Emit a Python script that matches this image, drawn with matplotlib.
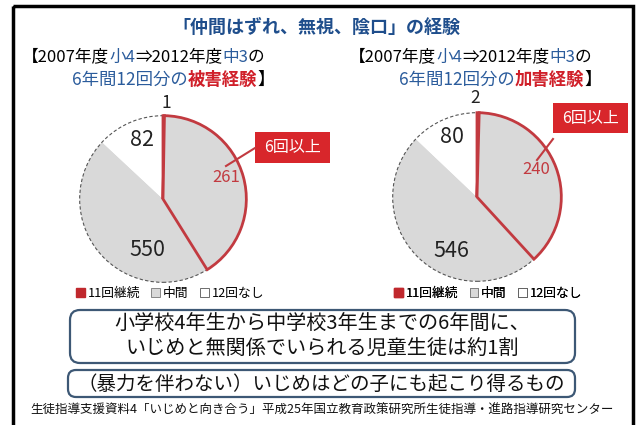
import numpy as np
import matplotlib.pyplot as plt
from matplotlib.patches import FancyBboxPatch, Rectangle, Patch, Circle

plt.rcParams['font.family'] = ['Noto Sans CJK JP', 'DejaVu Sans']

# counts shown on the charts (11回継続 / 6回以上 / 中間 / 12回なし)
victim_counts = [1, 261, 550, 82]
bully_counts = [2, 240, 546, 80]
# wedge sizes as drawn in the original graphic (degrees)
victim_drawn = [1, 147, 165, 47]
bully_drawn = [1.5, 136, 176, 46.5]
legend_labels = ['11回継続', '中間', '12回なし']

RED = '#c23a40'
BOX_RED = '#d8262b'
GRAY = '#d9d9d9'
BLUE = '#2b5c9c'
TITLE_BLUE = '#1f4e8c'

fig = plt.figure(figsize=(6.42, 4.25), dpi=100)


def pie(cx, cy, r, drawn):
    ax = fig.add_axes([(cx - r) / 642, 1 - (cy + r) / 425, 2 * r / 642, 2 * r / 425])
    wedges, _ = ax.pie(drawn, startangle=90, counterclock=False, radius=1,
                       colors=[RED, GRAY, GRAY, 'white'])
    for w in wedges:
        w.set_edgecolor('none')
    # dashed outer rim
    ax.add_patch(Circle((0, 0), 1, fill=False, ec='#555555', lw=0.8,
                        ls=(0, (3, 2)), zorder=2))
    # separator between 中間 and 12回なし
    t = np.deg2rad(wedges[3].theta1)
    ax.plot([0, np.cos(t)], [0, np.sin(t)], color='#555555', lw=0.7, zorder=3)
    # red outline of the 6回以上 part
    for w in wedges[:2]:
        w.set_edgecolor(RED)
        w.set_linewidth(2.0)
        w.set_zorder(4)
    ax.set_xlim(-1.02, 1.02)
    ax.set_ylim(-1.02, 1.02)
    ax.set_aspect('equal')
    ax.axis('off')


def rich(ax, x, y, parts, size):
    # draw text pieces one after another, each in its own colour
    t = None
    for s, color, weight in parts:
        if t is None:
            t = ax.text(x, y, s, color=color, fontsize=size, fontweight=weight,
                        ha='left', va='center')
        else:
            t = ax.annotate(s, xy=(1, 0), xycoords=t, color=color, fontsize=size,
                            fontweight=weight, ha='left', va='bottom')


pie(163, 199, 85, victim_drawn)
pie(477, 197, 86, bully_drawn)

charts = [
    (victim_counts, [(166, 103), (226, 177), (147, 250), (142, 140)],
     (255, 132, 75, 31), ((226, 166), (255, 148))),
    (bully_counts, [(475, 98), (536, 169), (451, 251), (452, 137)],
     (553, 103, 75, 30), ((537, 160), (553, 139))),
]

ax0 = fig.add_axes([0, 0, 1, 1], zorder=5)
ax0.set_xlim(0, 642)
ax0.set_ylim(425, 0)
ax0.axis('off')
ax0.patch.set_alpha(0)

# outer frame
ax0.add_patch(Rectangle((13, 6), 620, 430, fill=False, ec='black', lw=2.5))

ax0.text(316, 27, '「仲間はずれ、無視、陰口」の経験', ha='center', va='center',
         fontsize=13, fontweight='bold', color=TITLE_BLUE)

for dx, word in [(0, '被害経験'), (327, '加害経験')]:
    rich(ax0, 22 + dx, 57, [('【2007年度', 'black', 'normal'), ('小4', BLUE, 'normal'),
                            ('⇒2012年度', 'black', 'normal'), ('中3', BLUE, 'normal'),
                            ('の', 'black', 'normal')], 12)
    rich(ax0, 72 + dx, 80, [('6年間12回分の', BLUE, 'normal'), (word, '#d0202a', 'bold'),
                            ('】', 'black', 'normal')], 12.5)

for counts, label_pos, box, line in charts:
    for i, (c, (x, y)) in enumerate(zip(counts, label_pos)):
        if i == 1:
            ax0.text(x, y, str(c), ha='center', va='center', fontsize=12, color=RED)
        elif i == 0:
            ax0.text(x, y, str(c), ha='center', va='center', fontsize=12.5, color='#222222')
        else:
            ax0.text(x, y, str(c), ha='center', va='center', fontsize=15.5, color='#222222')
    bx, by, bw, bh = box
    ax0.add_patch(Rectangle((bx, by), bw, bh, fc=BOX_RED, ec='none'))
    ax0.text(bx + bw / 2, by + bh / 2, '6回以上', ha='center', va='center',
             fontsize=11.5, color='white')
    ax0.plot([line[0][0], line[1][0]], [line[0][1], line[1][1]], color=RED, lw=1.5)

handles = [Patch(fc='#c0282d', ec='#c0282d'), Patch(fc=GRAY, ec='#777777', lw=0.6),
           Patch(fc='white', ec='#555555', lw=0.6)]
for cx in (170, 488):
    leg = ax0.legend(handles, legend_labels, loc='center', ncol=3,
                     bbox_to_anchor=(cx / 642, 1 - 293 / 425), frameon=False,
                     fontsize=9.2, handlelength=0.7, handleheight=0.7, handletextpad=0.2,
                     columnspacing=0.9, borderpad=0)
    ax0.add_artist(leg)

ax0.add_patch(FancyBboxPatch((70, 310), 505, 53, boxstyle='round,pad=0,rounding_size=10',
                             fc='white', ec='#3d5875', lw=1.6))
ax0.text(322, 324, '小学校4年生から中学校3年生までの6年間に、', ha='center', va='center',
         fontsize=14.5, color='#111111')
ax0.text(322, 349, 'いじめと無関係でいられる児童生徒は約1割', ha='center', va='center',
         fontsize=14.5, color='#111111')

ax0.add_patch(FancyBboxPatch((68, 370), 507, 27, boxstyle='round,pad=0,rounding_size=8',
                             fc='white', ec='#3d5875', lw=1.6))
ax0.text(321, 384, '（暴力を伴わない）いじめはどの子にも起こり得るもの', ha='center',
         va='center', fontsize=14, color='#111111')

ax0.text(322, 410, '生徒指導支援資料4「いじめと向き合う」平成25年国立教育政策研究所生徒指導・進路指導研究センター',
         ha='center', va='center', fontsize=9, color='#111111')

fig.savefig('out.png', dpi=100)
